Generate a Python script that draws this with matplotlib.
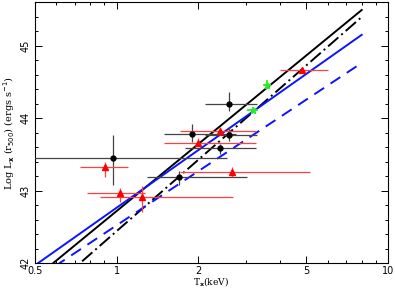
import numpy as np
import matplotlib.pyplot as plt
from matplotlib.ticker import FixedLocator, NullFormatter, MultipleLocator

# black points (T, lo, hi, logL, lo, hi)
blk_T = [0.967, 1.70, 1.90, 2.60, 2.41, 2.60]
blk_Tlo = [0.30, 1.29, 1.49, 2.12, 1.79, 2.12]
blk_Thi = [2.56, 3.02, 2.75, 3.29, 3.25, 3.30]
blk_L = [43.45, 43.18, 43.78, 44.19, 43.58, 43.77]
blk_Llo = [43.08, 43.07, 43.67, 44.09, 43.51, 43.68]
blk_Lhi = [43.77, 43.27, 43.92, 44.36, 43.64, 43.88]

# red triangles
red_T = [0.906, 1.03, 1.245, 2.66, 2.00, 2.41, 4.82]
red_Tlo = [0.733, 0.776, 0.868, 1.71, 1.49, 1.71, 3.99]
red_Thi = [1.105, 1.27, 2.69, 5.17, 3.25, 3.25, 5.99]
red_L = [43.32, 42.97, 42.91, 43.26, 43.66, 43.82, 44.66]
red_Llo = [43.18, 42.84, 42.70, 43.18, 43.62, 43.77, 44.62]
red_Lhi = [43.40, 43.04, 43.06, 43.32, 43.73, 43.88, 44.70]

# green points
grn_T = [3.57, 3.18]
grn_L = [44.46, 44.11]
grn_Terr = [0.12, 0.15]
grn_Lerr = [0.06, 0.04]

# fitted relations: logL = a + b*logT
fits = [
    (42.717, 3.07, 'black', '-'),
    (42.44, 3.27, 'black', (0, (7, 2, 1, 2))),
    (42.763, 2.64, '#0a14ff', '-'),
    (42.52, 2.48, '#0a14ff', (0, (6, 4))),
]

fig = plt.figure(figsize=(3.95, 2.91), dpi=100)
ax = fig.add_axes([35/395, 28/291, 353/395, 261/291])

T = np.array(blk_T)
ax.errorbar(T, blk_L,
            xerr=[T - np.array(blk_Tlo), np.array(blk_Thi) - T],
            yerr=[np.array(blk_L) - np.array(blk_Llo), np.array(blk_Lhi) - np.array(blk_L)],
            fmt='o', color='black', ecolor='#444444', elinewidth=0.9, ms=3.5, capsize=0, zorder=3)
T = np.array(red_T)
ax.errorbar(T, red_L,
            xerr=[T - np.array(red_Tlo), np.array(red_Thi) - T],
            yerr=[np.array(red_L) - np.array(red_Llo), np.array(red_Lhi) - np.array(red_L)],
            fmt='^', color='#ff0000', ecolor='#ff4040', elinewidth=0.9, ms=4.5, capsize=0, zorder=3)
ax.errorbar(grn_T, grn_L, xerr=grn_Terr, yerr=grn_Lerr, fmt='*', color='#22ee22',
            ecolor='#22ee22', elinewidth=1.2, ms=5, capsize=0, zorder=3)

for a, b, c, ls in fits:
    tt = np.logspace(np.log10(0.45), np.log10(8.0), 200)
    ax.plot(tt, a + b*np.log10(tt), color=c, ls=ls, lw=1.4, zorder=2)

ax.set_xscale('log')
ax.set_xlim(0.5, 10)
ax.set_ylim(42, 45.6)
ax.xaxis.set_major_locator(FixedLocator([0.5, 1, 2, 5, 10]))
ax.set_xticklabels(['0.5', '1', '2', '5', '10'])
ax.xaxis.set_minor_locator(FixedLocator([0.6, 0.7, 0.8, 0.9, 3, 4, 6, 7, 8, 9]))
ax.xaxis.set_minor_formatter(NullFormatter())
ax.yaxis.set_major_locator(MultipleLocator(1))
ax.yaxis.set_minor_locator(MultipleLocator(0.2))
ax.tick_params(which='both', direction='in', top=True, right=True, labelsize=7, width=0.7)
ax.tick_params(which='major', length=5)
ax.tick_params(which='minor', length=2.5)
ax.tick_params(axis='x', pad=2)
for lab in ax.get_yticklabels():
    lab.set_rotation(90)
    lab.set_va('center')
for s in ax.spines.values():
    s.set_linewidth(0.8)

ax.set_xlabel(r'T$_{\mathbf{x}}$(keV)', family='DejaVu Serif', fontsize=6.5)
ax.xaxis.set_label_coords(0.5, -0.045)
ax.set_ylabel(r'Log L$_{\mathbf{x}}$ (r$_{500}$) (ergs s$^{-1}$)', family='DejaVu Serif', fontsize=7, labelpad=2)

fig.savefig('out.png', dpi=100)
